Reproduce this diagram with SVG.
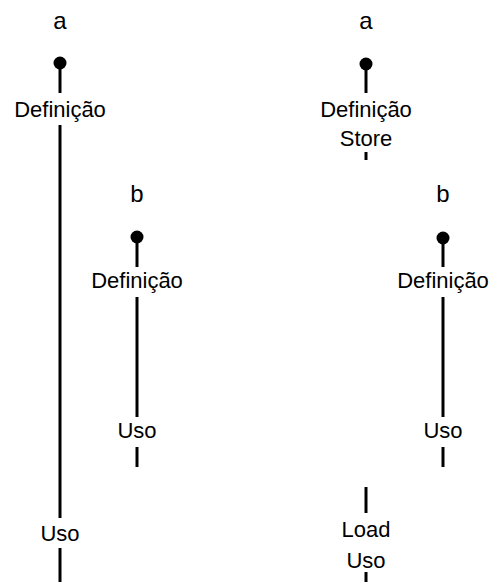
<svg xmlns="http://www.w3.org/2000/svg" width="494" height="582" viewBox="0 0 494 582">
  <style>
    text { font-family: "Liberation Sans", Arial, sans-serif; font-size: 22px; fill: #000; text-anchor: middle; }
    text.var { font-size: 24px; }
    .life { stroke: #000; stroke-width: 3; fill: none; }
    .dot { fill: #000; }
  </style>
  <rect width="494" height="582" fill="#fff"/>

  <!-- lifeline segments -->
  <g id="connectors">
    <line class="life" x1="60" y1="63" x2="60" y2="93"/>
    <line class="life" x1="60" y1="125" x2="60" y2="518"/>
    <line class="life" x1="60" y1="548" x2="60" y2="582"/>

    <line class="life" x1="137" y1="237" x2="137" y2="267"/>
    <line class="life" x1="137" y1="297" x2="137" y2="417"/>
    <line class="life" x1="137" y1="447" x2="137" y2="467"/>

    <line class="life" x1="366" y1="64" x2="366" y2="93"/>
    <line class="life" x1="366" y1="152" x2="366" y2="160"/>
    <line class="life" x1="366" y1="487" x2="366" y2="513"/>
    <line class="life" x1="366" y1="572" x2="366" y2="582"/>

    <line class="life" x1="443" y1="238" x2="443" y2="267"/>
    <line class="life" x1="443" y1="297" x2="443" y2="417"/>
    <line class="life" x1="443" y1="447" x2="443" y2="467"/>
  </g>

  <!-- variable a, kept in register -->
  <g id="var-a-left">
    <text class="var" x="60" y="29">a</text>
    <circle class="dot" cx="60" cy="63" r="6.5"/>
  </g>
  <g id="def-a-left"><text x="60" y="117">Definição</text></g>
  <g id="use-a-left"><text x="60" y="541">Uso</text></g>

  <!-- variable b, left -->
  <g id="var-b-left">
    <text class="var" x="137" y="202">b</text>
    <circle class="dot" cx="137" cy="237" r="6.5"/>
  </g>
  <g id="def-b-left"><text x="137" y="288">Definição</text></g>
  <g id="use-b-left"><text x="137" y="438">Uso</text></g>

  <!-- variable a, spilled to memory -->
  <g id="var-a-right">
    <text class="var" x="366" y="29">a</text>
    <circle class="dot" cx="366" cy="64" r="6.5"/>
  </g>
  <g id="def-a-right">
    <text x="366" y="117">Definição</text>
    <text x="366" y="146">Store</text>
  </g>
  <g id="use-a-right">
    <text x="366" y="537">Load</text>
    <text x="366" y="568">Uso</text>
  </g>

  <!-- variable b, right -->
  <g id="var-b-right">
    <text class="var" x="443" y="202">b</text>
    <circle class="dot" cx="443" cy="238" r="6.5"/>
  </g>
  <g id="def-b-right"><text x="443" y="288">Definição</text></g>
  <g id="use-b-right"><text x="443" y="438">Uso</text></g>
</svg>
